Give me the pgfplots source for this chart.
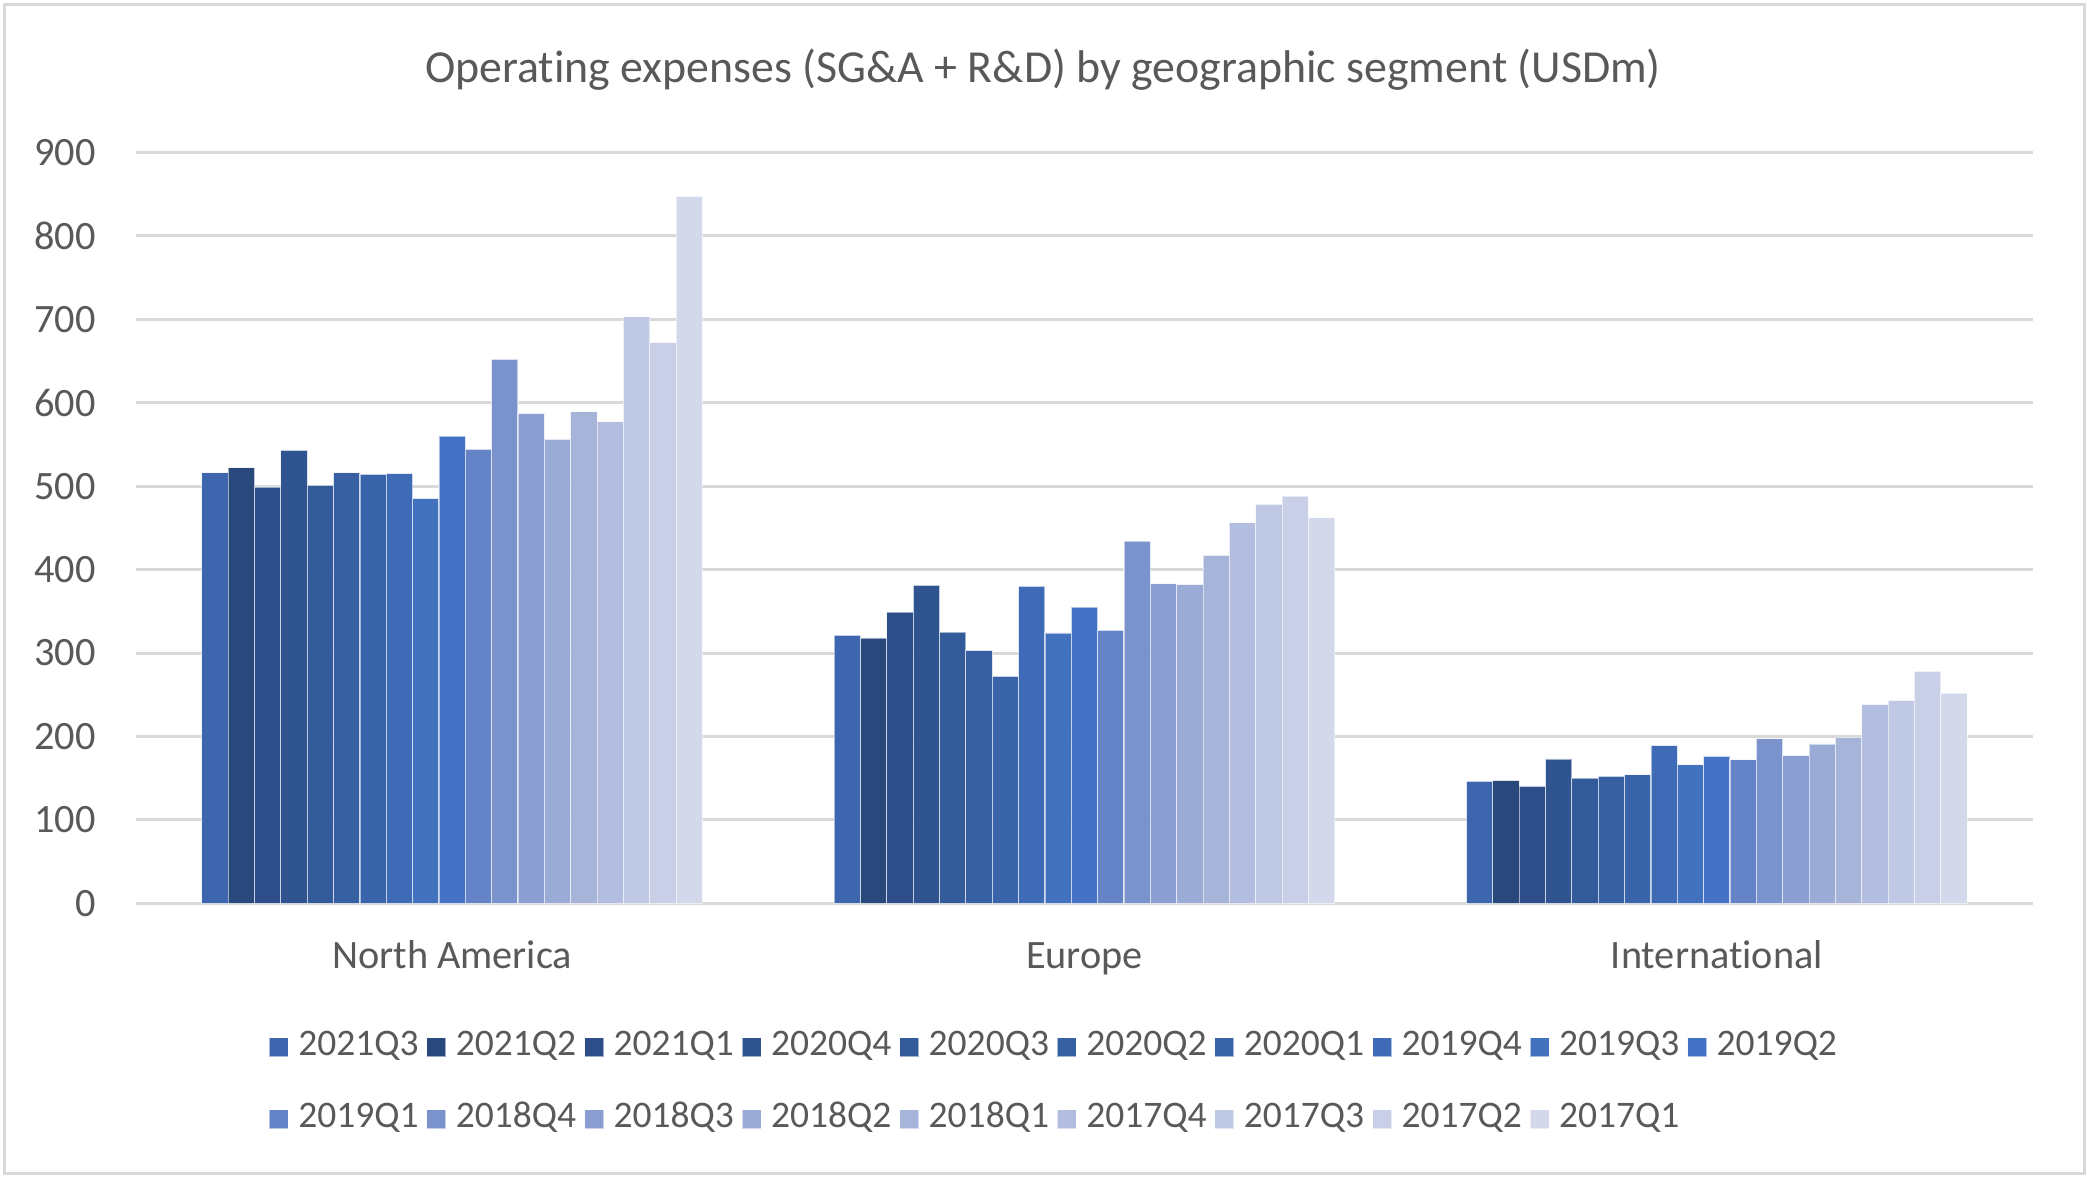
\documentclass[border=0pt]{standalone}
\usepackage{fontspec}
\setmainfont{Carlito}[Ligatures=NoCommon]
\usepackage{pgfplots}
\pgfplotsset{compat=1.18}

\definecolor{txt}{HTML}{595959}
\definecolor{gridc}{HTML}{D9D9D9}
% quarter colours, newest to oldest
\definecolor{c01}{HTML}{3D66AE}
\definecolor{c02}{HTML}{29487C}
\definecolor{c03}{HTML}{2D4E88}
\definecolor{c04}{HTML}{305490}
\definecolor{c05}{HTML}{335A99}
\definecolor{c06}{HTML}{3760A2}
\definecolor{c07}{HTML}{3A64AA}
\definecolor{c08}{HTML}{3F6BB6}
\definecolor{c09}{HTML}{4271BD}
\definecolor{c10}{HTML}{4472C4}
\definecolor{c11}{HTML}{6584C8}
\definecolor{c12}{HTML}{7A93CD}
\definecolor{c13}{HTML}{8A9ED1}
\definecolor{c14}{HTML}{9AACD6}
\definecolor{c15}{HTML}{A7B4DA}
\definecolor{c16}{HTML}{B2BDDF}
\definecolor{c17}{HTML}{BFC8E4}
\definecolor{c18}{HTML}{CACFE8}
\definecolor{c19}{HTML}{D3D8EB}

\begin{document}
\begin{tikzpicture}[x=0.36pt,y=0.36pt]
\path[use as bounding box] (0,0) rectangle (2090,1182);
\fill[white] (0,0) rectangle (2090,1182);
\draw[gridc, line width=1.08pt] (4,8) rectangle (2084,1177);
\node[anchor=base, font=\fontsize{16.5}{19}\selectfont, text=txt, inner sep=0pt]
  at (1043,1099) {Operating expenses (SG\&A + R\&D) by geographic segment (USDm)};
\begin{axis}[
  at={(48.96pt,100.33pt)}, anchor=south west,
  scale only axis, width=682.92pt, height=270.32pt,
  xmin=-0.5, xmax=2.5, ymin=0, ymax=900,
  ytick={0,100,...,900},
  xtick={0,1,2}, xticklabels={North America,Europe,International},
  axis line style={draw=none},
  major tick length=0pt,
  ymajorgrids, grid style={gridc, line width=1.08pt},
  tick label style={font=\fontsize{14.5}{17}\selectfont, text=txt},
  /pgf/number format/assume math mode=true,
  yticklabel style={anchor=east, inner sep=0pt, xshift=-14.4pt},
  xticklabel style={anchor=base, inner sep=0pt, yshift=-23.4pt},
  ybar=0pt,
  bar width=0.0416667,
  every axis plot/.append style={draw=white, draw opacity=0.55, line width=0.4pt},
  legend columns=10,
  legend cell align=left,
  legend style={at={(axis description cs:0.0697,-0.1698)}, anchor=north west,
    draw=none, fill=none, inner sep=0pt,
    font=\fontsize{13.5}{16}\selectfont, text=txt, row sep=15.7pt,
    nodes={inner sep=0pt, text height=8.7pt, text depth=1.5pt},
    /tikz/every odd column/.append style={column sep=3.4pt},
    /tikz/every even column/.append style={column sep=2.8pt}},
  legend image code/.code={%
    \path (0pt,-4pt) -- (0pt,4pt);
    \fill[#1] (0pt,-4pt) rectangle (6.84pt,2.84pt);},
]
\addplot[fill=c01, bar shift=-0.375000] coordinates {(0,516) (1,321) (2,146)};
\addlegendentry{2021Q3}
\addplot[fill=c02, bar shift=-0.333333] coordinates {(0,522) (1,318) (2,147)};
\addlegendentry{2021Q2}
\addplot[fill=c03, bar shift=-0.291667] coordinates {(0,499) (1,349) (2,140)};
\addlegendentry{2021Q1}
\addplot[fill=c04, bar shift=-0.250000] coordinates {(0,543) (1,381) (2,173)};
\addlegendentry{2020Q4}
\addplot[fill=c05, bar shift=-0.208333] coordinates {(0,501) (1,325) (2,150)};
\addlegendentry{2020Q3}
\addplot[fill=c06, bar shift=-0.166667] coordinates {(0,516) (1,303) (2,152)};
\addlegendentry{2020Q2}
\addplot[fill=c07, bar shift=-0.125000] coordinates {(0,514) (1,272) (2,154)};
\addlegendentry{2020Q1}
\addplot[fill=c08, bar shift=-0.083333] coordinates {(0,515) (1,380) (2,189)};
\addlegendentry{2019Q4}
\addplot[fill=c09, bar shift=-0.041667] coordinates {(0,485) (1,324) (2,166)};
\addlegendentry{2019Q3}
\addplot[fill=c10, bar shift=0.000000] coordinates {(0,560) (1,355) (2,176)};
\addlegendentry{2019Q2}
\addplot[fill=c11, bar shift=0.041667] coordinates {(0,544) (1,327) (2,172)};
\addlegendentry{2019Q1}
\addplot[fill=c12, bar shift=0.083333] coordinates {(0,652) (1,434) (2,197)};
\addlegendentry{2018Q4}
\addplot[fill=c13, bar shift=0.125000] coordinates {(0,587) (1,383) (2,177)};
\addlegendentry{2018Q3}
\addplot[fill=c14, bar shift=0.166667] coordinates {(0,556) (1,382) (2,191)};
\addlegendentry{2018Q2}
\addplot[fill=c15, bar shift=0.208333] coordinates {(0,589) (1,417) (2,199)};
\addlegendentry{2018Q1}
\addplot[fill=c16, bar shift=0.250000] coordinates {(0,577) (1,456) (2,238)};
\addlegendentry{2017Q4}
\addplot[fill=c17, bar shift=0.291667] coordinates {(0,703) (1,478) (2,243)};
\addlegendentry{2017Q3}
\addplot[fill=c18, bar shift=0.333333] coordinates {(0,672) (1,488) (2,278)};
\addlegendentry{2017Q2}
\addplot[fill=c19, bar shift=0.375000] coordinates {(0,847) (1,462) (2,252)};
\addlegendentry{2017Q1}
\end{axis}
\end{tikzpicture}
\end{document}
